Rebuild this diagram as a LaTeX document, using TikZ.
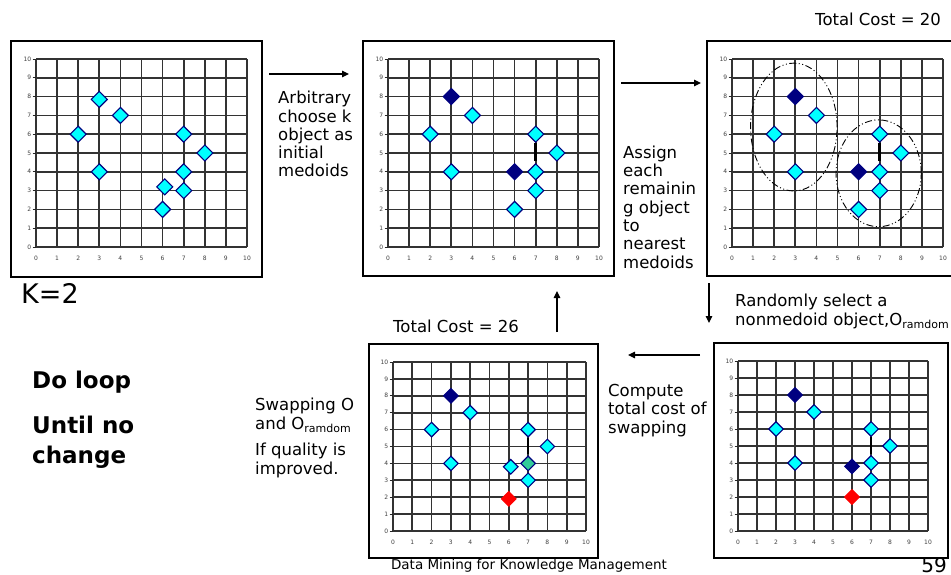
\documentclass[tikz,border=0pt]{standalone}
\usepackage{fontspec}
\setmainfont{DejaVu Sans}
\usetikzlibrary{shapes.geometric,arrows.meta}
\definecolor{ptcyan}{HTML}{00FFFF}
\definecolor{ptnavy}{HTML}{000080}
\definecolor{ptred}{HTML}{FF0000}
\definecolor{ptteal}{HTML}{33CC99}
\tikzset{
  declare function={px(\a)=\gx+\sx*\a; py(\b)=-\gy+\sy*\b;},
  panelframe/.style={draw=black, line width=1.6pt, inner sep=0pt, fill=white},
  gridline/.style={line width=1.7pt, draw=black!80},
  axistick/.style={line width=0.8pt, draw=black!85},
  ticklbl/.style={font=\fontsize{6}{6}\selectfont, text=black!75, inner sep=0pt},
  datapt/.style={diamond, aspect=1, inner sep=0pt, minimum width=\dsize pt, minimum height=\dsize pt, line width=1.1pt},
  vbar/.style={line width=2.5pt, draw=black},
  cluster/.style={line width=0.9pt, dash pattern=on 7pt off 2.5pt on 1pt off 2.5pt on 1pt off 2.5pt},
  lbl/.style={font=\fontsize{16.5}{18.3}\selectfont, align=left, inner sep=0pt, anchor=base west},
  biglbl/.style={font=\fontsize{23}{30}\selectfont\bfseries, align=left, inner sep=0pt, anchor=base west},
  flow/.style={-{Triangle[length=7pt,width=6.5pt]}, line width=1.2pt}
}
\newcommand\dsize{16}
\newcommand\subr{\raisebox{-0.35ex}{\fontsize{11}{11}\selectfont ramdom}}
% #1 name, #2-#5 frame left/top/right/bottom, #6 grid x0, #7 grid x10, #8 grid y10, #9 grid y0
\newcommand\panelgrid[9]{%
  \pgfmathsetmacro\pw{#4-#2}%
  \pgfmathsetmacro\ph{#5-#3}%
  \node[panelframe, anchor=north west, minimum width=\pw pt, minimum height=\ph pt] (#1) at (#2,-#3) {};%
  \pgfmathsetmacro\gx{#6}%
  \pgfmathsetmacro\gy{#9}%
  \pgfmathsetmacro\sx{(#7-#6)/10}%
  \pgfmathsetmacro\sy{(#9-#8)/10}%
  \foreach \i in {0,...,10}{%
    \draw[gridline] ({px(\i)},{py(0)}) -- ({px(\i)},{py(10)});
    \draw[gridline] ({px(0)},{py(\i)}) -- ({px(10)},{py(\i)});
    \draw[axistick] ({px(0)-3.5},{py(\i)}) -- ({px(0)},{py(\i)});
    \node[ticklbl, anchor=east] (#1y\i) at ({px(0)-4.5},{py(\i)}) {\i};
    \node[ticklbl, anchor=north] (#1x\i) at ({px(\i)},{py(0)-9}) {\i};
  }%
}
\newcommand\pts[2]{%
  \foreach \x/\y/\f/\d [count=\k] in {#2}{%
    \node[datapt, fill=\f, draw=\d] (#1p\k) at ({px(\x)},{py(\y)}) {};
  }%
}
\newcommand\barline[1]{%
  \coordinate (#1bar) at ({px(7)},{py(4.55)});
  \draw[vbar] (#1p5.south) -- (#1bar);
}
\begin{document}
\begin{tikzpicture}[x=1pt,y=1pt]
\useasboundingbox (0,0) rectangle (951,-575);

% ---- panel 1
\renewcommand\dsize{16.5}
\panelgrid{pa}{10}{40}{261}{276}{36}{247}{59}{247}
\pts{pa}{2/6/ptcyan/ptnavy,3/7.85/ptcyan/ptnavy,4/7/ptcyan/ptnavy,3/4/ptcyan/ptnavy,7/6/ptcyan/ptnavy,8/5/ptcyan/ptnavy,7/4/ptcyan/ptnavy,6.1/3.2/ptcyan/ptnavy,7/3/ptcyan/ptnavy,6/2/ptcyan/ptnavy}

% ---- panel 2
\panelgrid{pb}{362}{40}{613}{275}{388}{599}{59}{247}
\pts{pb}{2/6/ptcyan/ptnavy,3/8/ptnavy/ptnavy,4/7/ptcyan/ptnavy,3/4/ptcyan/ptnavy,7/6/ptcyan/ptnavy,8/5/ptcyan/ptnavy,7/4/ptcyan/ptnavy,6/4/ptnavy/ptnavy,7/3/ptcyan/ptnavy,6/2/ptcyan/ptnavy}
\barline{pb}

% ---- panel 3
\panelgrid{pc}{706}{40}{951}{275}{732}{943}{59}{247}
\draw[cluster] ({px(2.93)},{py(6.38)}) ellipse [x radius={2.05*\sx}, y radius={3.4*\sy}];
\draw[cluster] ({px(6.95)},{py(3.92)}) ellipse [x radius={2.02*\sx}, y radius={2.84*\sy}];
\pts{pc}{2/6/ptcyan/ptnavy,3/8/ptnavy/ptnavy,4/7/ptcyan/ptnavy,3/4/ptcyan/ptnavy,7/6/ptcyan/ptnavy,8/5/ptcyan/ptnavy,7/4/ptcyan/ptnavy,6/4/ptnavy/ptnavy,7/3/ptcyan/ptnavy,6/2/ptcyan/ptnavy}
\barline{pc}

% ---- panel 4 (bottom middle)
\renewcommand\dsize{15}
\panelgrid{pd}{368}{343}{597}{557}{393}{586}{362}{531}
\pts{pd}{2/6/ptcyan/ptnavy,3/8/ptnavy/ptnavy,4/7/ptcyan/ptnavy,3/4/ptcyan/ptnavy,7/6/ptcyan/ptnavy,8/5/ptcyan/ptnavy,7/4/ptteal/ptnavy,6.1/3.8/ptcyan/ptnavy,7/3/ptcyan/ptnavy,6/1.9/ptred/ptred}
\barline{pd}

% ---- panel 5 (bottom right)
\panelgrid{pe}{713}{342}{947}{557}{738}{928}{361}{531}
\pts{pe}{2/6/ptcyan/ptnavy,3/8/ptnavy/ptnavy,4/7/ptcyan/ptnavy,3/4/ptcyan/ptnavy,7/6/ptcyan/ptnavy,8/5/ptcyan/ptnavy,7/4/ptcyan/ptnavy,6/3.8/ptnavy/ptnavy,7/3/ptcyan/ptnavy,6/2/ptred/ptred}
\barline{pe}

% ---- arrows
\coordinate (a1s) at (269,-74);  \coordinate (a1e) at (349,-74);
\coordinate (a2s) at (621,-83);  \coordinate (a2e) at (701,-83);
\coordinate (a3s) at (709,-283); \coordinate (a3e) at (709,-323);
\coordinate (a4s) at (700,-355); \coordinate (a4e) at (628,-355);
\coordinate (a5s) at (557,-332); \coordinate (a5e) at (557,-291);
\draw[flow] (a1s) -- (a1e);
\draw[flow] (a2s) -- (a2e);
\draw[flow] (a3s) -- (a3e);
\draw[flow] (a4s) -- (a4e);
\draw[flow] (a5s) -- (a5e);

% ---- texts (base anchor = baseline of the last line)
\node[lbl] (tcost20) at (815,-26) {Total Cost = 20};
\node[lbl, font=\fontsize{27}{27}\selectfont] (tk) at (21,-303) {K=2};
\node[lbl] (tarb) at (278,-177) {Arbitrary\\choose k\\object as\\initial\\medoids};
\node[lbl] (tassign) at (623,-268) {Assign\\each\\remainin\\g object\\to\\nearest\\medoids};
\node[lbl] (trand) at (735,-325) {Randomly select a\\nonmedoid object,O\subr};
\node[lbl] (tcost26) at (393,-332) {Total Cost = 26};
\node[lbl] (tcomp) at (608,-433) {Compute\\total cost of\\swapping};
\node[lbl] (tswap) at (255,-429) {Swapping O\\and O\subr};
\node[lbl] (tqual) at (255,-474) {If quality is\\improved.};
\node[biglbl] (tloop) at (32,-388) {Do loop};
\node[biglbl] (tuntil) at (32,-463) {Until no\\change};
\node[font=\fontsize{13.5}{13.5}\selectfont, inner sep=0pt, anchor=base] (tfoot) at (529,-569) {Data Mining for Knowledge Management};
\node[font=\fontsize{20}{20}\selectfont, inner sep=0pt, anchor=base east] (tpage) at (947,-572) {59};
\end{tikzpicture}
\end{document}
